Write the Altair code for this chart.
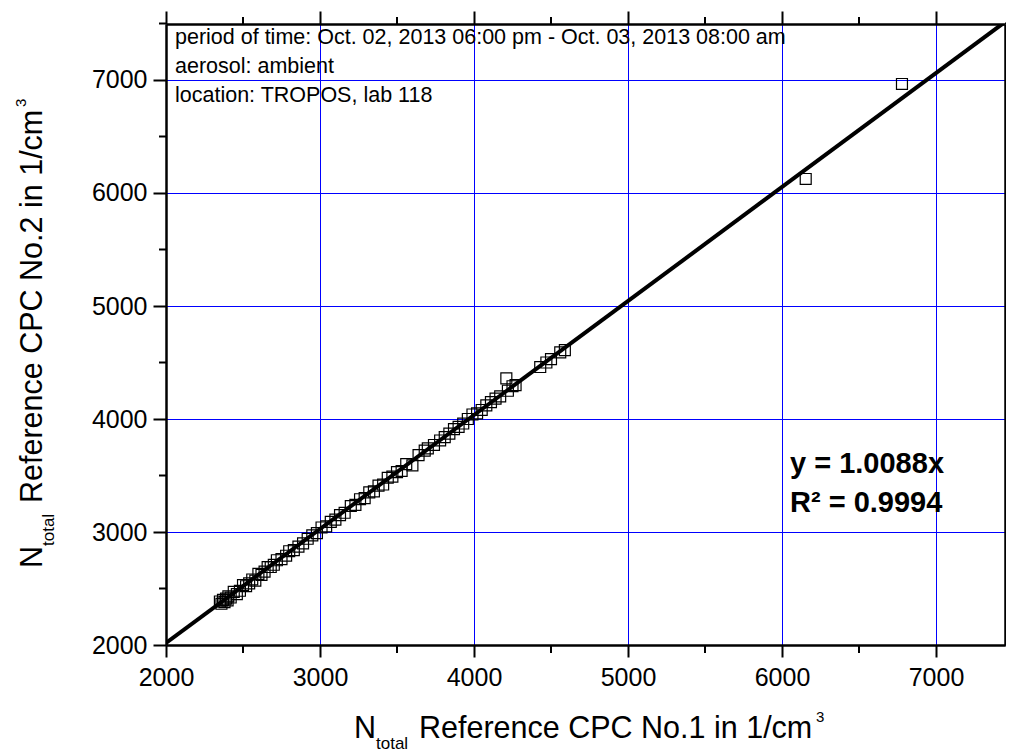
import altair as alt
import pandas as pd

# ---- data ----
CPC1 = [2350, 2360, 2370, 2380, 2390, 2400, 2405, 2420, 2440, 2460, 2480, 2500, 2520, 2540,
        2560, 2580, 2600, 2620, 2640, 2660, 2680, 2700, 2720, 2750, 2780, 2800, 2830, 2860,
        2890, 2920, 2950, 2980, 3010, 3040, 3070, 3100, 3130, 3160, 3200, 3230, 3260, 3290,
        3320, 3350, 3380, 3410, 3440, 3470, 3500, 3530, 3560, 3600, 3640, 3680, 3700, 3740,
        3780, 3810, 3840, 3870, 3900, 3930, 3960, 3990, 4020, 4050, 4080, 4110, 4140, 4170,
        4210, 4220, 4250, 4270, 4430, 4470, 4500, 4560, 4590, 6154, 6779]
CPC2 = [2385, 2365, 2400, 2380, 2410, 2395, 2430, 2420, 2470, 2450, 2480, 2530, 2520, 2545,
        2580, 2570, 2630, 2620, 2650, 2690, 2690, 2710, 2750, 2760, 2790, 2830, 2840, 2870,
        2900, 2940, 2970, 2990, 3040, 3050, 3090, 3110, 3150, 3170, 3230, 3240, 3290, 3300,
        3350, 3360, 3410, 3420, 3480, 3490, 3530, 3540, 3600, 3590, 3680, 3720, 3740, 3770,
        3810, 3840, 3870, 3910, 3930, 3960, 4000, 4040, 4050, 4080, 4120, 4150, 4180, 4200,
        4360, 4250, 4290, 4300, 4460, 4500, 4530, 4590, 4610, 6124, 6965]
FIT_X = [2000, 7500]
SLOPE = 1.0088
MAJOR = [2000, 3000, 4000, 5000, 6000, 7000]
MINOR = [2500, 3500, 4500, 5500, 6500, 7500]
X_DOMAIN = [2000, 7448.052]
Y_DOMAIN = [2000, 7495.575]
INFO = ["period of time: Oct. 02, 2013 06:00 pm - Oct. 03, 2013 08:00 am",
        "aerosol: ambient",
        "location: TROPOS, lab 118"]
EQUATION = ["y = 1.0088x", "R\u00b2 = 0.9994"]
X_TITLE = ["N", "total", "Reference CPC No.1 in 1/cm", "3"]
Y_TITLE = ["N", "total", "Reference CPC No.2 in 1/cm", "3"]

FONT = "Liberation Sans"
W, H = 839, 621

pts = pd.DataFrame({"x": CPC1, "y": CPC2})
fit = pd.DataFrame({"x": FIT_X})
minor = pd.DataFrame({"v": MINOR})

xs = alt.Scale(domain=X_DOMAIN, nice=False, zero=False)
ys = alt.Scale(domain=Y_DOMAIN, nice=False, zero=False)

common = dict(values=MAJOR, title=None, domainColor="black", domainWidth=2.5,
              tickColor="black", tickWidth=2, labelFont=FONT, labelFontSize=25,
              labelColor="black", labelOverlap=False, labelFlush=False, format="d")

ax_bottom = alt.Axis(orient="bottom", tickSize=12, labelPadding=8,
                     grid=True, gridColor="#0000ff", gridWidth=1, **common)
ax_left = alt.Axis(orient="left", tickSize=13, labelPadding=6,
                   grid=True, gridColor="#0000ff", gridWidth=1, **common)
ax_top = alt.Axis(orient="top", tickSize=13, labels=False, grid=False, **common)
ax_right = alt.Axis(orient="right", tickSize=13, labels=False, grid=False, **common)

points = alt.Chart(pts).mark_point(shape="square", filled=False, size=120,
                                    stroke="black", strokeWidth=1.2, opacity=1).encode(
    x=alt.X("x:Q", scale=xs, axis=ax_bottom),
    y=alt.Y("y:Q", scale=ys, axis=ax_left),
)

line = alt.Chart(fit).transform_calculate(y=f"{SLOPE} * datum.x").mark_line(
    color="black", strokeWidth=4, clip=True).encode(
    x=alt.X("x:Q", scale=xs, axis=ax_top),
    y=alt.Y("y:Q", scale=ys, axis=ax_right),
)


# minor ticks (500 steps) on all four sides
def minor_x(y0, y1):
    return alt.Chart(minor).mark_rule(color="black", strokeWidth=2).encode(
        x=alt.X("v:Q", scale=xs, axis=None), y=alt.value(y0), y2=alt.value(y1))


def minor_y(x0, x1):
    return alt.Chart(minor).mark_rule(color="black", strokeWidth=2).encode(
        y=alt.Y("v:Q", scale=ys, axis=None), x=alt.value(x0), x2=alt.value(x1))


minors = [minor_x(H, H + 8), minor_x(0, -7), minor_y(0, -7), minor_y(W, W + 7)]

one = alt.Data(values=[{"a": 1}])


def txt(text, x, y, size, angle=0, weight="normal", lh=None):
    kw = dict(font=FONT, fontSize=size, align="left", baseline="alphabetic",
              color="black", fontWeight=weight, angle=angle)
    if lh is not None:
        kw["lineHeight"] = lh
    return alt.Chart(one).mark_text(**kw).encode(
        x=alt.value(x), y=alt.value(y), text=alt.value(text))


info = txt(INFO, 9, 20, 21.5, lh=29)
eq = txt(EQUATION, 624, 449, 29, weight="bold", lh=39)

# x axis title with subscript and superscript
xt = [
    txt(X_TITLE[0], 188, 714, 30.5),
    txt(X_TITLE[1], 210, 725, 17),
    txt(X_TITLE[2], 253, 714, 30.5),
    txt(X_TITLE[3], 650, 698, 15),
]
# y axis title (rotated)
yt = [
    txt(Y_TITLE[0], -124, 544, 30.5, angle=270),
    txt(Y_TITLE[1], -112, 522, 17, angle=270),
    txt(Y_TITLE[2], -124, 479, 30.5, angle=270),
    txt(Y_TITLE[3], -140, 83, 15, angle=270),
]

chart = alt.layer(points, line, *minors, info, eq, *xt, *yt).resolve_axis(
    x="independent", y="independent").properties(
    width=W, height=H,
    autosize=alt.AutoSizeParams(type="none"),
    padding={"left": 158, "top": 16, "right": 1, "bottom": 108},
).configure_view(strokeWidth=0).configure(background="white")

chart.save("out.html", embed_options={"renderer": "svg", "actions": False})
